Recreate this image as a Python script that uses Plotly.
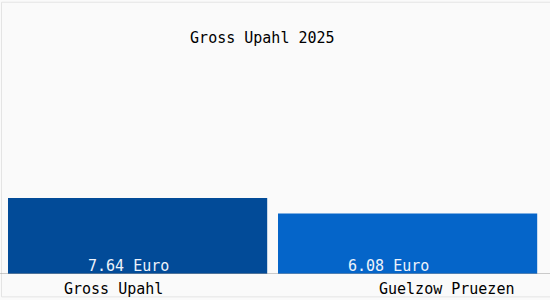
import plotly.graph_objects as go

categories = ["Gross Upahl", "Guelzow Pruezen"]
values = [7.64, 6.08]
value_labels = ["7.64 Euro", "6.08 Euro"]
colors = ["#024b98", "#0565c9"]
title = "Gross Upahl 2025"

FONT = "DejaVu Sans Mono"

fig = go.Figure()
fig.add_trace(go.Bar(
    x=[0, 1], y=values, marker=dict(color=colors, line=dict(width=0)),
    width=0.96, hoverinfo="skip",
))

label_shift = [-24, 39]
value_shift = [-9, -19]
for i, c in enumerate(categories):
    fig.add_annotation(x=i, y=0, yref="y", text=value_labels[i], showarrow=False,
                       yanchor="bottom", yshift=-3, xshift=value_shift[i],
                       font=dict(family=FONT, size=15, color="#eef3fb"))
    fig.add_annotation(x=i, y=0, yref="y", text=c, showarrow=False,
                       yanchor="top", yshift=-4, xshift=label_shift[i],
                       font=dict(family=FONT, size=15, color="#000000"))

fig.add_shape(type="line", xref="paper", yref="y", x0=-0.02, x1=1.02, y0=0, y1=0,
              line=dict(color="#9a9a9a", width=1))
fig.add_shape(type="rect", xref="paper", yref="paper", x0=-0.012, x1=1.009, y0=-0.09, y1=1.07,
              line=dict(color="#e4e4e4", width=1), layer="below")

fig.update_layout(
    width=550, height=300,
    margin=dict(l=8, r=2, t=20, b=26),
    paper_bgcolor="#fafafa", plot_bgcolor="#fafafa",
    title=dict(text=title, x=0.477, xanchor="center", y=0.873, yanchor="middle",
               font=dict(family=FONT, size=15, color="#000000")),
    showlegend=False,
    xaxis=dict(range=[-0.48, 1.52], showticklabels=False, showgrid=False, zeroline=False,
               showline=False, fixedrange=True),
    yaxis=dict(range=[0, 25.5], showticklabels=False, showgrid=False, zeroline=False,
               showline=False, fixedrange=True),
)

fig.write_html("out.html", config={"displayModeBar": False})
